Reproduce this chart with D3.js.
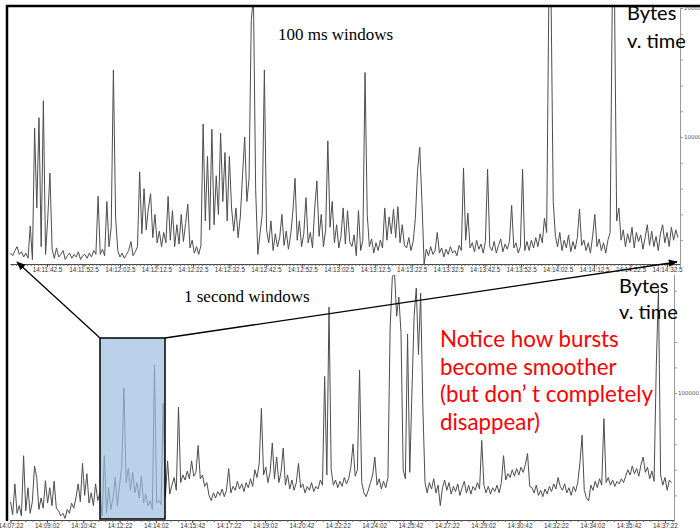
<!DOCTYPE html>
<html><head><meta charset="utf-8">
<script src="https://cdn.jsdelivr.net/npm/d3@7"></script>
<style>body{margin:0;background:#fff}svg{display:block}</style>
</head><body><svg id="c" width="700" height="530"></svg>
<script>
// ---------- DATA ----------
const topStart = "14:11:32.5";   // first 100 ms sample shown (resampled)
const topStep = 0.6;             // seconds between listed values
const topTickLabels = ["14:11:42.5","14:11:52.5","14:12:02.5","14:12:12.5","14:12:22.5","14:12:32.5","14:12:42.5","14:12:52.5","14:13:02.5","14:13:12.5","14:13:22.5","14:13:32.5","14:13:42.5","14:13:52.5","14:14:02.5","14:14:12.5","14:14:22.5","14:14:32.5"];
const topYLabels = [10000, 20000];
const topBytes = [
1000,800,1200,1500,900,1100,700,1000,600,3100,500,
10700,4500,11500,1500,12800,900,3700,7200,
1300,600,1400,700,900,1200,500,800,1000,600,900,700,1100,500,800,900,600,1000,700,1200,900,
5400,900,1300,800,5000,1500,3000,15200,3800,1200,
700,1000,600,900,1200,1900,800,1100,1500,
7300,2500,6000,2800,4500,5600,2200,4000,1800,2700,1500,2600,1800,5400,2000,4300,1500,3200,1700,4000,1900,3300,4800,1400,2000,1000,1500,900,1600,
11000,3500,8500,2800,10600,3200,7000,4000,10300,5000,8800,3500,8500,4500,
2700,4500,2200,3800,7000,10000,5000,6800,
19000,21000,6000,900,2500,4000,15200,2800,
1800,3500,1200,2500,1500,2200,4000,1600,2700,1300,2400,4200,6800,2000,3500,1500,2500,5300,1800,2600,1400,4500,6600,2300,4000,1500,2800,9700,3000,5000,1800,3200,1400,2300,4500,1700,4300,1900,
1500,2400,800,4300,1200,2000,
15000,4000,
1500,2100,1000,1800,1200,2000,1400,
4500,2000,3800,2500,4400,2200,4600,1800,3200,1600,
1400,2200,1200,1900,3700,
7400,9200,5000,150,
1300,800,1500,900,1200,2600,1000,1400,700,1300,900,1500,1000,1200,800,1600,
1200,7600,2000,4100,1400,
1800,1100,2000,1300,1700,1000,1900,
7500,1500,
1200,1900,1000,1600,2100,1100,1700,1300,1900,4700,1400,
1800,1000,1500,7500,1200,
1900,1200,2000,1400,2200,1500,2500,1800,3700,2600,
21000,21000,5000,
2300,1500,2600,1200,2000,1400,2400,1100,1900,1300,2200,4400,1600,2000,1200,1800,1000,2300,4000,1500,2100,1200,1800,1000,2000,2600,
21000,21000,3500,
4500,2000,2800,1500,2500,1800,3000,1400,2600,1900,2400,1300,2200,3200,1600,2700,1500,2300,1200,2500,3200,1800,2600,1500,3000,2000,2800,2200
];

const bottomStart = "14:07:22";
const bottomStep = 6;
const bottomTickLabels = ["14:07:22","14:09:02","14:10:42","14:12:22","14:14:02","14:15:42","14:17:22","14:19:02","14:20:42","14:22:22","14:24:02","14:25:42","14:27:22","14:29:02","14:30:42","14:32:22","14:34:02","14:35:42","14:37:22"];
const bottomYLabels = [100000];
const bottomBytes = [
15000,5000,29000,6000,12000,4000,51000,8000,26000,6000,
15000,43000,34000,9000,18000,10000,31500,14000,26000,12000,
31000,10000,8000,4000,6000,2000,9000,6000,14000,10000,
18000,29000,15000,45000,20000,37000,14000,22000,12000,29000,
16000,22000,
4000,51000,6000,26000,9000,18000,34000,12000,28000,43000,
104000,30000,41000,24000,38000,22000,30000,18000,35000,14000,
21000,12000,16000,9000,122000,14000,16000,13000,92000,19000,
47000,21000,
28000,34000,24000,89000,30000,36000,32000,39000,33000,47000,
35000,38000,59000,33000,36000,27000,30000,20000,16000,22000,
18000,23000,20000,25000,19000,24000,41000,22000,
27000,24000,31000,25000,29000,23000,30000,26000,33000,27000,
40000,34000,45000,88000,36000,42000,30000,38000,61000,33000,
50000,30000,38000,57000,28000,36000,25000,32000,24000,30000,
45000,26000,29000,22000,27000,24000,30000,23000,27000,25000,
32000,28000,113000,36000,167000,40000,28000,32000,26000,31000,
27000,34000,29000,33000,
42000,60000,35000,40000,118000,30000,22000,19000,24000,30000,36000,50000,28000,33000,25000,31000,26000,34000,
150000,190000,195000,160000,175000,147000,40000,33000,146000,38000,100000,160000,182000,130000,178000,90000,
30000,22000,30000,25000,33000,22000,28000,12000,26000,32000,24000,30000,21000,27000,23000,29000,20000,26000,31000,22000,28000,21000,27000,24000,30000,25000,
63000,28000,22000,27000,21000,26000,23000,28000,22000,30000,51000,
32000,37000,34000,40000,35000,41000,36000,42000,38000,44000,52700,
27000,26000,22000,28000,20000,24000,19000,25000,21000,27000,23000,29000,25000,34000,27000,24000,29000,22000,26000,20000,27000,23000,30000,45000,67000,
24000,18000,15700,28000,24000,31000,26000,33000,28000,80000,30000,34000,28000,32000,27000,31000,29000,33000,30000,35000,
40000,36000,43000,37000,41000,35000,44000,50000,38000,42000,33000,39000,31000,120000,181000,
36000,28000,34000,24000,32000,30000
];

// ---------- DRAW ----------
function secs(s){const p=s.split(":");return (+p[0])*3600+(+p[1])*60+(+p[2]);}
const svg = d3.select("#c");
const defs = svg.append("defs");
defs.append("clipPath").attr("id","clipTop").append("rect").attr("x",10).attr("y",6).attr("width",670).attr("height",260);
defs.append("clipPath").attr("id","clipBot").append("rect").attr("x",10).attr("y",275).attr("width",664).attr("height",246);
defs.append("marker").attr("id","arr").attr("viewBox","0 0 10 10").attr("refX",9).attr("refY",5)
  .attr("markerWidth",7).attr("markerHeight",7).attr("orient","auto-start-reverse")
  .append("path").attr("d","M0,1 L10,5 L0,9 z").attr("fill","#000");

// scales
const topX = d3.scaleLinear().domain([secs("14:11:32.35"), secs("14:14:36.06")]).range([10,680]);
const topY = d3.scaleLinear().domain([0,20000]).range([266,8]);
const botX = d3.scaleLinear().domain([secs("14:07:20.6"), secs("14:37:46.8")]).range([10,674]);
const botY = d3.scaleLinear().domain([0,193000]).range([521,274]);

// ---- top chart ----
const t0 = secs(topStart);
svg.append("path").datum(topBytes).attr("clip-path","url(#clipTop)")
  .attr("fill","none").attr("stroke","#4d4d4d").attr("stroke-width",1).attr("stroke-linejoin","round")
  .attr("d", d3.line().x((d,i)=>topX(t0+i*topStep)).y(d=>topY(d)));

const topMinor = d3.range(Math.ceil(topX.domain()[0]), topX.domain()[1], 1);
svg.append("g").attr("transform","translate(0,264)")
  .call(d3.axisBottom(topX).tickValues(topMinor).tickFormat("").tickSize(2).tickSizeOuter(0))
  .call(g=>g.selectAll("line").attr("stroke","#666"))
  .call(g=>g.select(".domain").attr("stroke","#444"));
svg.append("g").attr("transform","translate(0,264)")
  .call(d3.axisBottom(topX).tickValues(topTickLabels.map(secs)).tickFormat((d,i)=>topTickLabels[i]).tickSize(3).tickSizeOuter(0))
  .call(g=>g.select(".domain").remove())
  .call(g=>g.selectAll("line").attr("stroke","#444"))
  .call(g=>g.selectAll("text").attr("y",8).attr("dy",0).attr("font-family","Liberation Sans").attr("font-size",6.4).attr("fill","#333"));

svg.append("g").attr("transform","translate(680,0)")
  .call(d3.axisRight(topY).tickValues(d3.range(2000,20001,2000)).tickFormat(d=>topYLabels.includes(d)?d:"").tickSize(3).tickSizeOuter(0))
  .call(g=>g.select(".domain").attr("stroke","#999"))
  .call(g=>g.selectAll("line").attr("stroke","#999"))
  .call(g=>g.selectAll("text").attr("x",4).attr("font-family","DejaVu Sans").attr("font-size",5.5).attr("fill","#555"));

// ---- bottom chart ----
const b0 = secs(bottomStart);
svg.append("path").datum(bottomBytes).attr("clip-path","url(#clipBot)")
  .attr("fill","none").attr("stroke","#4d4d4d").attr("stroke-width",1).attr("stroke-linejoin","round")
  .attr("d", d3.line().x((d,i)=>botX(b0+i*bottomStep)).y(d=>botY(d)));

const botMinor = d3.range(secs("14:07:22"), botX.domain()[1], 20);
svg.append("g").attr("transform","translate(0,520)")
  .call(d3.axisBottom(botX).tickValues(botMinor).tickFormat("").tickSize(2).tickSizeOuter(0))
  .call(g=>g.selectAll("line").attr("stroke","#666"))
  .call(g=>g.select(".domain").attr("stroke","#444"));
svg.append("g").attr("transform","translate(0,520)")
  .call(d3.axisBottom(botX).tickValues(bottomTickLabels.map(secs)).tickFormat((d,i)=>bottomTickLabels[i]).tickSize(3).tickSizeOuter(0))
  .call(g=>g.select(".domain").remove())
  .call(g=>g.selectAll("line").attr("stroke","#444"))
  .call(g=>g.selectAll("text").attr("y",8).attr("dy",0).attr("font-family","Liberation Sans").attr("font-size",6.4).attr("fill","#333"));

svg.append("g").attr("transform","translate(674,0)")
  .call(d3.axisRight(botY).tickValues(d3.range(20000,180001,20000)).tickFormat(d=>bottomYLabels.includes(d)?d:"").tickSize(3).tickSizeOuter(0))
  .call(g=>g.select(".domain").attr("stroke","#999"))
  .call(g=>g.selectAll("line").attr("stroke","#999"))
  .call(g=>g.selectAll("text").attr("x",4).attr("font-family","DejaVu Sans").attr("font-size",5.5).attr("fill","#555"));

// highlighted window
const rx0 = 100, rx1 = 165, ry0 = 338;
svg.append("rect").attr("x",rx0).attr("y",ry0).attr("width",rx1-rx0).attr("height",519-ry0)
  .attr("fill","#9ebde0").attr("fill-opacity",0.7).attr("stroke","#000").attr("stroke-width",1.5);

// zoom arrows
svg.append("line").attr("x1",rx0).attr("y1",ry0).attr("x2",17).attr("y2",262)
  .attr("stroke","#000").attr("stroke-width",1.3).attr("marker-end","url(#arr)");
svg.append("line").attr("x1",rx1).attr("y1",ry0).attr("x2",677).attr("y2",262)
  .attr("stroke","#000").attr("stroke-width",1.3).attr("marker-end","url(#arr)");

// frame
svg.append("line").attr("x1",7).attr("y1",5).attr("x2",7).attr("y2",521).attr("stroke","#000").attr("stroke-width",2.5);
svg.append("line").attr("x1",6).attr("y1",6).attr("x2",700).attr("y2",6).attr("stroke","#000").attr("stroke-width",2.5);

// annotations
svg.append("text").attr("x",278).attr("y",40).attr("font-family","Liberation Serif").attr("font-size",17).text("100 ms windows");
svg.append("text").attr("x",184).attr("y",302).attr("font-family","Liberation Serif").attr("font-size",17).text("1 second windows");
const sans = "Lato";
svg.append("text").attr("x",627).attr("y",20).attr("font-family",sans).attr("font-size",20).text("Bytes");
svg.append("text").attr("x",627).attr("y",48).attr("font-family",sans).attr("font-size",20).text("v. time");
svg.append("text").attr("x",619).attr("y",293).attr("font-family",sans).attr("font-size",20).text("Bytes");
svg.append("text").attr("x",619).attr("y",319).attr("font-family",sans).attr("font-size",20).text("v. time");
const notes = ["Notice how bursts","become smoother","(but don\u2019 t completely","disappear)"];
svg.append("g").selectAll("text").data(notes).join("text")
  .attr("x",440).attr("y",(d,i)=>347+i*27.7).attr("font-family",sans).attr("font-size",22.3).attr("fill","#ff0000").text(d=>d);
</script></body></html>
